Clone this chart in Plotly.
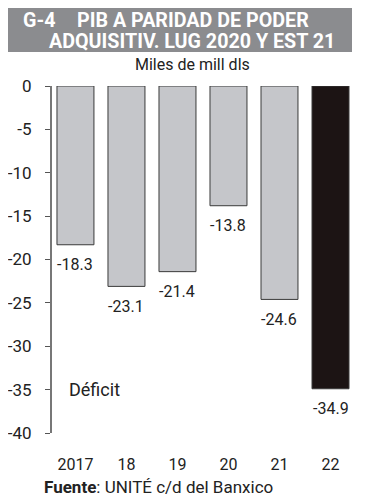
import plotly.graph_objects as go

categories = ["2017", "18", "19", "20", "21", "22"]
values = [-18.3, -23.1, -21.4, -13.8, -24.6, -34.9]
labels = ["-18.3", "-23.1", "-21.4", "-13.8", "-24.6", "-34.9"]
bar_colors = ["#c5c6ca", "#c5c6ca", "#c5c6ca", "#c5c6ca", "#c5c6ca", "#1c1414"]
y_ticks = [0, -5, -10, -15, -20, -25, -30, -35, -40]

OFF = 8  # page body margin
W, H = 368, 492
ML, MT = 52 - OFF, 86 - OFF
PR, PB = 356 - OFF, 433 - OFF
MR, MB = W - PR, H - PB
PW, PH = PR - ML, PB - MT

def px(x):
    return (x - OFF - ML) / PW

def py(y):
    return (PB - (y - OFF)) / PH

FONT = "Roboto, sans-serif"

fig = go.Figure()
fig.add_trace(go.Bar(
    x=categories,
    y=values,
    marker=dict(color=bar_colors, line=dict(color="#3a3a3a", width=1)),
    width=0.725,
))

annotations = [
    dict(x=i, y=v, xref="x", yref="y", text=t, showarrow=False,
         xanchor="center", yanchor="middle", yshift=-20,
         font=dict(family=FONT, size=16, color="#222"))
    for i, (v, t) in enumerate(zip(values, labels))
]

title_font = dict(family=FONT, size=19.7, color="white")
annotations += [
    dict(text="<b>G-4</b>", xref="paper", yref="paper", x=px(21), y=py(20),
         xanchor="left", yanchor="middle", showarrow=False, font=title_font),
    dict(text="<b>PIB A PARIDAD DE PODER</b>", xref="paper", yref="paper", x=px(75), y=py(20),
         xanchor="left", yanchor="middle", showarrow=False, font=title_font),
    dict(text="<b>ADQUISITIV. LUG 2020 Y EST 21</b>", xref="paper", yref="paper", x=px(47), y=py(41.5),
         xanchor="left", yanchor="middle", showarrow=False, font=title_font),
    dict(text="Miles de mill dls", xref="paper", yref="paper", x=px(192), y=py(64),
         xanchor="center", yanchor="middle", showarrow=False,
         font=dict(family=FONT, size=16, color="#222")),
    dict(text="Déficit", xref="paper", yref="paper", x=px(67), y=py(389),
         xanchor="left", yanchor="middle", showarrow=False,
         font=dict(family=FONT, size=18, color="#222")),
    dict(text="<b>Fuente</b>: UNITÉ c/d del Banxico", xref="paper", yref="paper", x=px(42), y=py(487),
         xanchor="left", yanchor="middle", showarrow=False,
         font=dict(family=FONT, size=17, color="#222")),
]

fig.update_layout(
    width=W, height=H,
    margin=dict(l=ML, r=MR, t=MT, b=MB, autoexpand=False),
    paper_bgcolor="white", plot_bgcolor="white",
    showlegend=False,
    font=dict(family=FONT, size=16, color="#222"),
    xaxis=dict(
        type="category",
        range=[-0.46, 5.5], showgrid=False, zeroline=False, showline=False,
        ticks="", ticklabelstandoff=20, automargin=False,
        tickfont=dict(family=FONT, size=16, color="#222"),
    ),
    yaxis=dict(
        range=[-40, 0], tickvals=y_ticks, ticktext=[str(v) for v in y_ticks],
        showgrid=False, zeroline=False, showline=True, linecolor="#777", linewidth=2,
        ticks="outside", ticklen=5, tickcolor="#555", tickwidth=1,
        ticklabelstandoff=10, automargin=False,
        tickfont=dict(family=FONT, size=17, color="#222"),
    ),
    shapes=[dict(type="rect", xref="paper", yref="paper",
                 x0=px(7), x1=px(352), y0=py(52), y1=py(5),
                 fillcolor="#8b8c8f", line=dict(width=0), layer="below")],
    annotations=annotations,
)

fig.write_html("out.html")
